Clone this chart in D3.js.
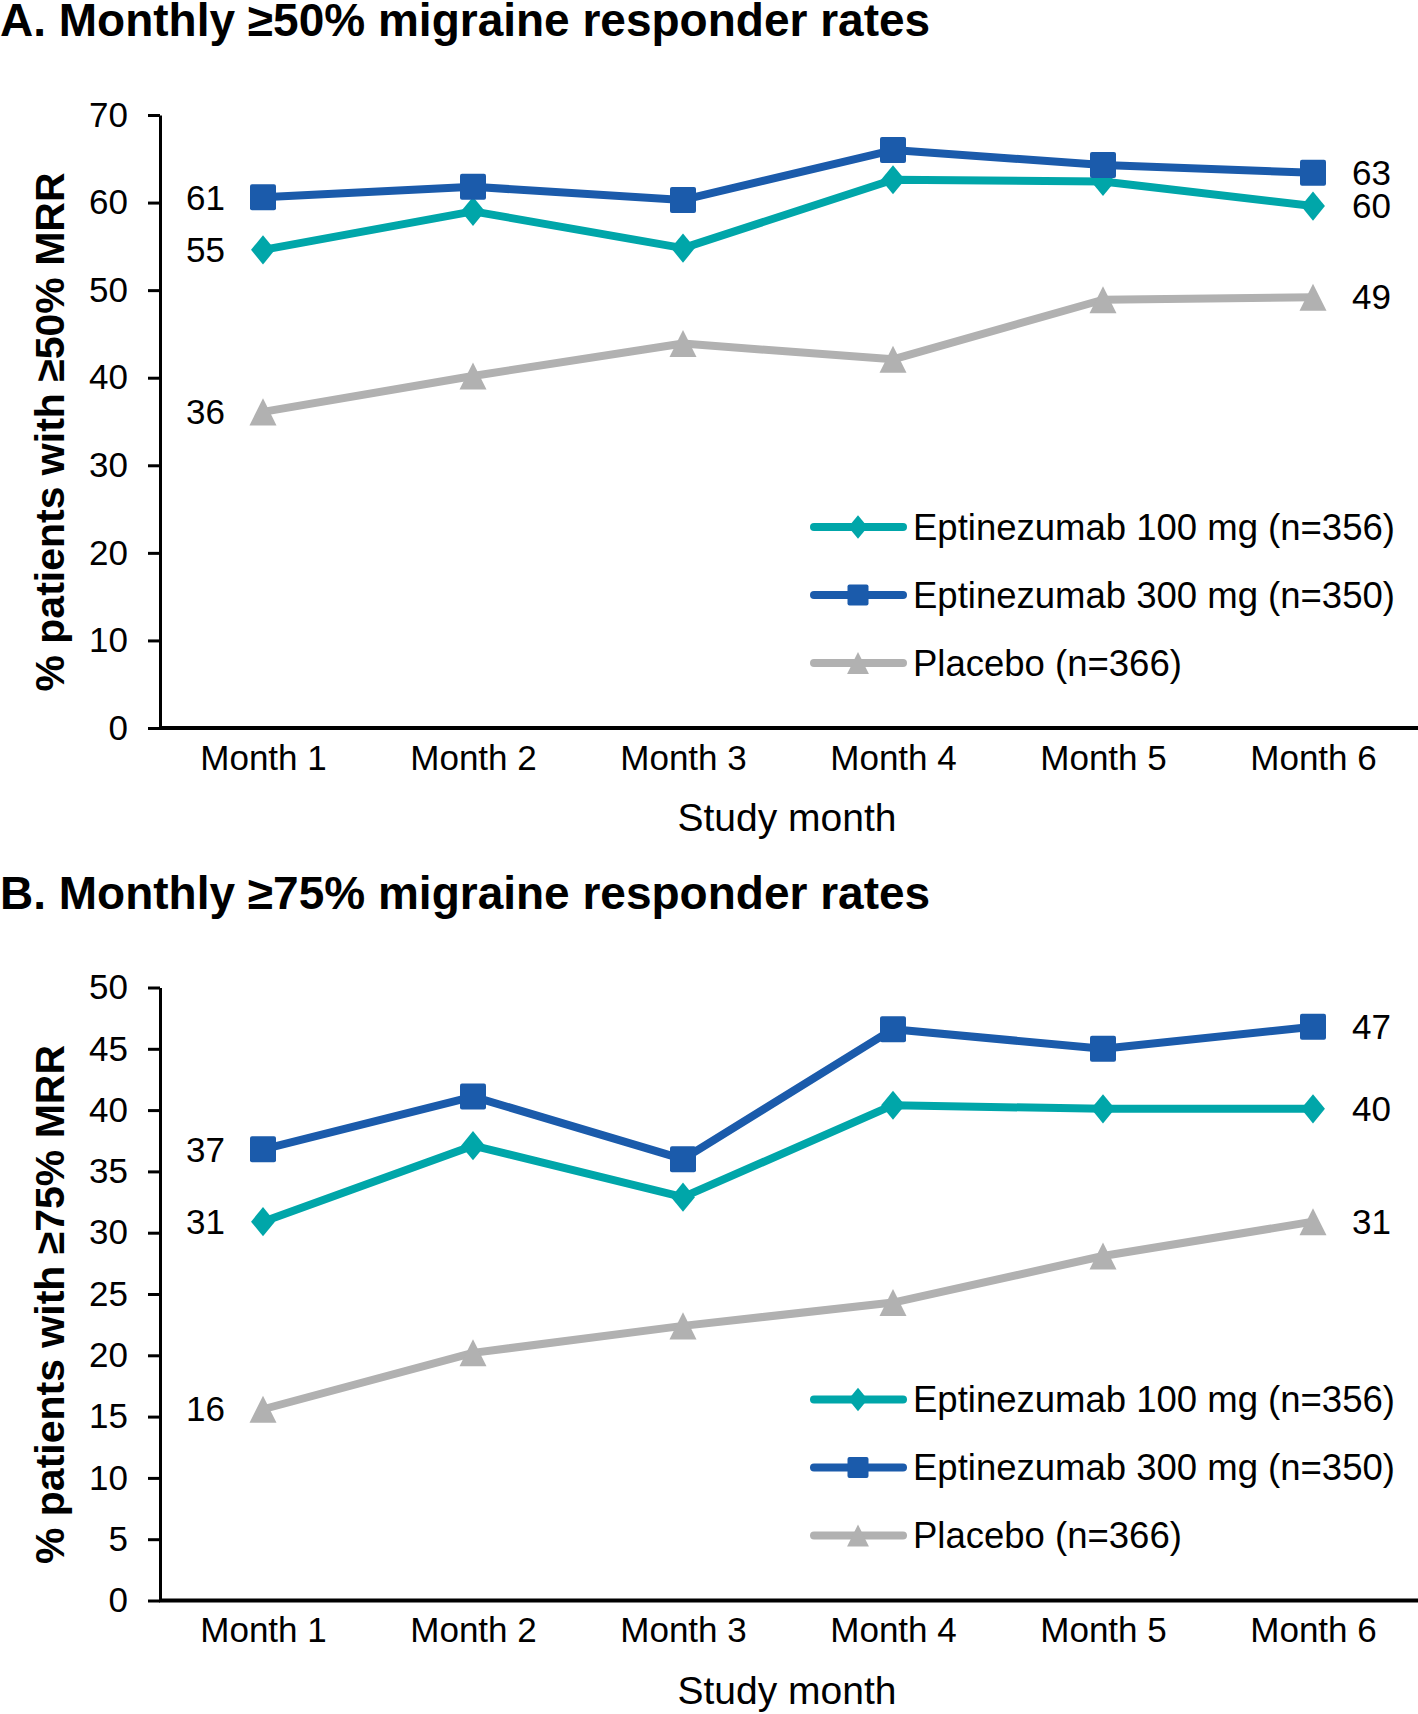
<!doctype html>
<html>
<head>
<meta charset="utf-8">
<script src="https://d3js.org/d3.v7.min.js"></script>
<style>
  body { margin: 0; background: #fff; }
  text { font-family: "Liberation Sans", Arial, sans-serif; fill: #000; }
</style>
</head>
<body>
<svg id="chart" width="1418" height="1714"></svg>
<script>
// data
var months = ["Month 1", "Month 2", "Month 3", "Month 4", "Month 5", "Month 6"];
var seriesNames = ["Eptinezumab 100 mg (n=356)", "Eptinezumab 300 mg (n=350)", "Placebo (n=366)"];

var mrr50_100 = [54.6, 59.0, 54.8, 62.6, 62.4, 59.6];
var mrr50_300 = [60.6, 61.8, 60.3, 66.0, 64.3, 63.4];
var mrr50_pbo = [36.1, 40.2, 43.9, 42.1, 48.9, 49.2];

var mrr75_100 = [30.9, 37.1, 32.9, 40.4, 40.1, 40.1];
var mrr75_300 = [36.8, 41.1, 36.0, 46.6, 45.0, 46.8];
var mrr75_pbo = [15.6, 20.2, 22.4, 24.3, 28.1, 30.9];

var ticks50 = [0, 10, 20, 30, 40, 50, 60, 70];
var ticks75 = [0, 5, 10, 15, 20, 25, 30, 35, 40, 45, 50];

var colors = ["#00A6A9", "#1B5BAB", "#B1B1B1"];
var shapes = ["diamond", "square", "triangle"];

var svg = d3.select("#chart");

function marker(g, shape, color, s) {
  if (shape == "square") {
    g.append("rect").attr("x", -s / 2).attr("y", -s / 2).attr("width", s).attr("height", s)
      .attr("rx", 2).attr("fill", color);
  } else if (shape == "diamond") {
    var w = s * 0.46, h = s * 0.56;
    g.append("path").attr("d", "M0," + (-h) + "L" + w + ",0L0," + h + "L" + (-w) + ",0Z").attr("fill", color);
  } else {
    var t = s * 0.52;
    g.append("path").attr("d", "M0," + (-t) + "L" + t + "," + t + "L" + (-t) + "," + t + "Z").attr("fill", color);
  }
}

function panel(top, title, yTitle, maxY, ticks, series) {
  var g = svg.append("g").attr("transform", "translate(0," + top + ")");

  var x = d3.scalePoint().domain(months).range([263, 1313]);
  var y = d3.scaleLinear().domain([0, maxY]).range([728, 115]);

  g.append("text").attr("x", 0).attr("y", 36)
    .style("font-weight", "bold").style("font-size", "46px").text(title);

  // y axis
  var yAxis = d3.axisLeft(y).tickValues(ticks).tickSize(12).tickPadding(20).tickSizeOuter(0);
  var ya = g.append("g").attr("transform", "translate(160,0)").call(yAxis);
  ya.select(".domain").attr("stroke", "#000").attr("stroke-width", 3);
  ya.selectAll(".tick line").attr("stroke", "#000").attr("stroke-width", 3);
  ya.selectAll(".tick text").style("font-size", "35px").attr("fill", "#000");

  // x axis
  var xAxis = d3.axisBottom(x).tickSize(0).tickPadding(17);
  var xa = g.append("g").attr("transform", "translate(0,728)").call(xAxis);
  xa.select(".domain").attr("d", "M159,0H1418").attr("stroke", "#000").attr("stroke-width", 4);
  xa.selectAll(".tick text").style("font-size", "35px").attr("fill", "#000");

  g.append("text").attr("x", 787).attr("y", 831).attr("text-anchor", "middle")
    .style("font-size", "39px").text("Study month");

  g.append("text").attr("transform", "translate(64,432) rotate(-90)").attr("text-anchor", "middle")
    .style("font-weight", "bold").style("font-size", "41px").text(yTitle);

  var line = d3.line().x((d, i) => x(months[i])).y(d => y(d));

  // draw placebo first so the actives sit on top
  [2, 0, 1].forEach(function (k) {
    var vals = series[k];
    g.append("path").attr("d", line(vals)).attr("fill", "none")
      .attr("stroke", colors[k]).attr("stroke-width", 8).attr("stroke-linejoin", "round");
    vals.forEach(function (v, i) {
      var m = g.append("g").attr("transform", "translate(" + x(months[i]) + "," + y(v) + ")");
      marker(m, shapes[k], colors[k], 26);
    });
    g.append("text").attr("x", x(months[0]) - 38).attr("y", y(vals[0])).attr("dy", "0.35em")
      .attr("text-anchor", "end").style("font-size", "35px").text(Math.round(vals[0]));
    g.append("text").attr("x", x(months[5]) + 39).attr("y", y(vals[5])).attr("dy", "0.35em")
      .style("font-size", "35px").text(Math.round(vals[5]));
  });

  // legend
  seriesNames.forEach(function (name, k) {
    var ly = 527 + k * 68;
    var lg = g.append("g").attr("transform", "translate(0," + ly + ")");
    lg.append("line").attr("x1", 814).attr("x2", 903).attr("y1", 0).attr("y2", 0)
      .attr("stroke", colors[k]).attr("stroke-width", 8).attr("stroke-linecap", "round");
    var m = lg.append("g").attr("transform", "translate(858,0)");
    marker(m, shapes[k], colors[k], 21);
    lg.append("text").attr("x", 913).attr("y", 0).attr("dy", "0.35em")
      .style("font-size", "36.5px").text(name);
  });
}

panel(0, "A. Monthly \u226550% migraine responder rates", "% patients with \u226550% MRR", 70, ticks50,
  [mrr50_100, mrr50_300, mrr50_pbo]);
panel(872.5, "B. Monthly \u226575% migraine responder rates", "% patients with \u226575% MRR", 50, ticks75,
  [mrr75_100, mrr75_300, mrr75_pbo]);
</script>
</body>
</html>
